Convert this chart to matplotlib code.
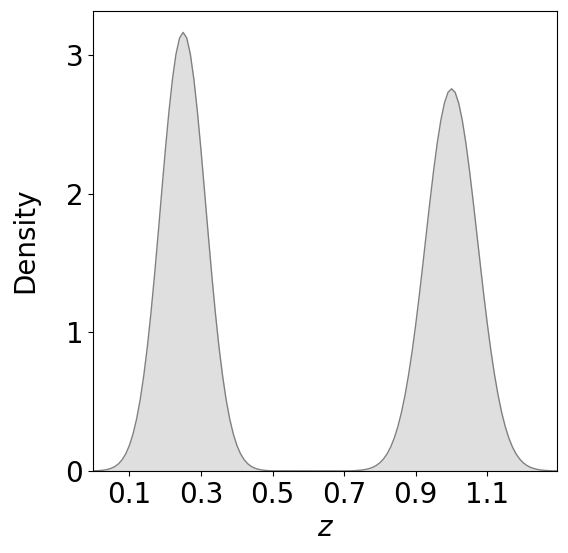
import numpy as np
import matplotlib
matplotlib.use("Agg")
import matplotlib.pyplot as plt

z_left = np.linspace(0.00, 0.50, 51)
dens_left = [0.0012, 0.0022, 0.0040, 0.0071, 0.0122, 0.0205, 0.0335, 0.0534,
             0.0830, 0.1258, 0.186, 0.268, 0.377, 0.516, 0.690, 0.898, 1.141,
             1.414, 1.708, 2.012, 2.311, 2.588, 2.827, 3.010, 3.126, 3.166,
             3.126, 3.010, 2.827, 2.588, 2.311, 2.012, 1.708, 1.414, 1.141,
             0.898, 0.690, 0.516, 0.377, 0.268, 0.186, 0.1258, 0.0830, 0.0534,
             0.0335, 0.0205, 0.0122, 0.0071, 0.0040, 0.0022, 0.0012]

z_right = np.linspace(0.70, 1.30, 61)
dens_right = [0.0005, 0.0009, 0.0015, 0.0026, 0.0043, 0.0070, 0.0112, 0.0175,
              0.0269, 0.0406, 0.0601, 0.0873, 0.1244, 0.1739, 0.2384, 0.3207,
              0.423, 0.548, 0.696, 0.867, 1.060, 1.271, 1.496, 1.727, 1.955,
              2.172, 2.367, 2.531, 2.655, 2.733, 2.759, 2.733, 2.655, 2.531,
              2.367, 2.172, 1.955, 1.727, 1.496, 1.271, 1.060, 0.867, 0.696,
              0.548, 0.423, 0.3207, 0.2384, 0.1739, 0.1244, 0.0873, 0.0601,
              0.0406, 0.0269, 0.0175, 0.0112, 0.0070, 0.0043, 0.0026, 0.0015,
              0.0009, 0.0005]

xticks = [0.1, 0.3, 0.5, 0.7, 0.9, 1.1]
yticks = [0, 1, 2, 3]

z = np.concatenate([z_left, z_right])
dens = np.array(dens_left + dens_right)

fig = plt.figure(figsize=(5.68, 5.53), dpi=100)
ax = fig.add_axes([0.1637, 0.1483, 0.8178, 0.8327])

ax.fill_between(z, dens, color="gray", alpha=0.25, linewidth=0)
ax.plot(z, dens, color="gray", linewidth=1)

ax.set_xlim(-0.002, 1.296)
ax.set_ylim(0, 3.324)
ax.set_xticks(xticks)
ax.set_yticks(yticks)
ax.tick_params(labelsize=20)
ax.set_xlabel("$z$", fontsize=20)
ax.set_ylabel("Density", fontsize=20, labelpad=19)

fig.savefig("out.png", dpi=100)
